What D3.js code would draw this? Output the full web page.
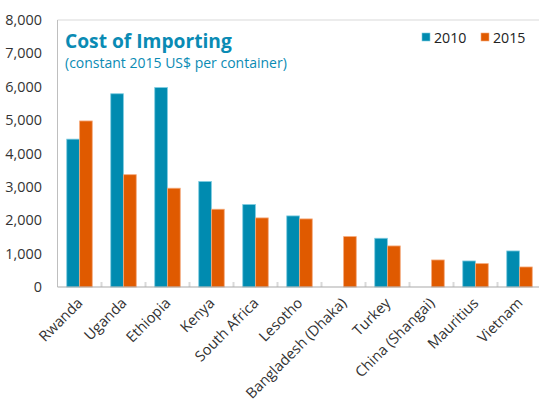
<!DOCTYPE html>
<html><head><meta charset="utf-8">
<script src="https://cdn.jsdelivr.net/npm/d3@7"></script>
<style>body{margin:0;background:#fff;}svg{display:block;font-family:"Open Sans","Noto Sans",sans-serif;}</style>
</head><body>
<svg id="c" width="539" height="403"></svg>
<script>
const categories = ["Rwanda","Uganda","Ethiopia","Kenya","South Africa","Lesotho","Bangladesh (Dhaka)","Turkey","China (Shangai)","Mauritius","Vietnam"];
const series = ["2010","2015"];
const values2010 = [4430, 5790, 5975, 3160, 2470, 2130, null, 1460, null, 780, 1080];
const values2015 = [4975, 3365, 2960, 2330, 2070, 2040, 1510, 1230, 810, 700, 600];
const yTicks = [0,1000,2000,3000,4000,5000,6000,7000,8000];
const colors = ["#008BB0","#E05A00"];
const strokes = ["#7ccbe0","#f5a878"];

(function(){
const svg = d3.select("#c");
const pL = 57.5, pR = 541.5, pT = 20, pB = 287;
const x = d3.scaleBand().domain(categories).range([pL, pR]);
const x1 = d3.scaleBand().domain(series).range([0, 25.5]).paddingInner(0.02);
const y = d3.scaleLinear().domain([0, 8000]).range([pB, pT]);

svg.append("line").attr("x1", pL).attr("x2", pR).attr("y1", pT).attr("y2", pT).attr("stroke", "#d9d9d9");
svg.append("line").attr("x1", pL).attr("x2", pL).attr("y1", pT).attr("y2", pB).attr("stroke", "#bfbfbf");

const ya = svg.append("g").attr("transform", `translate(${pL},0)`)
  .call(d3.axisLeft(y).tickValues(yTicks).tickFormat(d3.format(",")).tickSize(0).tickPadding(15.5));
ya.select(".domain").remove();
ya.selectAll("text").attr("font-size", 14.4).attr("fill", "#333").attr("font-family", "'Open Sans','Noto Sans',sans-serif");

svg.append("g").selectAll("line").data(categories.slice(1)).join("line")
  .attr("x1", d => x(d)).attr("x2", d => x(d)).attr("y1", pB - 5).attr("y2", pB)
  .attr("stroke", "#d9d9d9").attr("stroke-width", 2);

const data = categories.map((c, i) => ({c, v: [values2010[i], values2015[i]]}));
const g = svg.append("g");
data.forEach(d => {
  d.v.forEach((v, j) => {
    if (v == null) return;
    g.append("rect")
      .attr("x", x(d.c) + (x.bandwidth() - 25.5) / 2 + x1(series[j]))
      .attr("y", y(v))
      .attr("width", x1.bandwidth())
      .attr("height", y(0) - y(v))
      .attr("fill", colors[j])
      .attr("stroke", strokes[j]).attr("stroke-width", 0.8);
  });
});

svg.append("line").attr("x1", pL).attr("x2", pR).attr("y1", pB).attr("y2", pB).attr("stroke", "#aaaaaa").attr("stroke-width", 1.2);

const xa = svg.append("g").attr("transform", `translate(0,${pB})`)
  .call(d3.axisBottom(x).tickSize(0).tickPadding(0));
xa.select(".domain").remove();
xa.selectAll("text")
  .attr("font-size", 14.6).attr("fill", "#333").attr("font-family", "'Open Sans','Noto Sans',sans-serif")
  .attr("text-anchor", "end").attr("dy", 0)
  .attr("transform", "translate(4,17) rotate(-45)");

svg.append("text").attr("x", 65).attr("y", 48).text("Cost of Importing")
  .attr("font-size", 19.2).attr("font-weight", "bold").attr("fill", "#0a8bb4");
svg.append("text").attr("x", 65).attr("y", 68).text("(constant 2015 US$ per container)")
  .attr("font-size", 14).attr("fill", "#0a8bb4");

const lg = [{s:"2010", x:422},{s:"2015", x:481}];
lg.forEach((l, i) => {
  svg.append("rect").attr("x", l.x).attr("y", 33).attr("width", 8).attr("height", 8)
    .attr("fill", colors[i]).attr("stroke", strokes[i]).attr("stroke-width", 0.6);
  svg.append("text").attr("x", l.x + 12).attr("y", 42.5).text(l.s)
    .attr("font-size", 14.2).attr("fill", "#222");
});
})();
</script>
</body></html>
